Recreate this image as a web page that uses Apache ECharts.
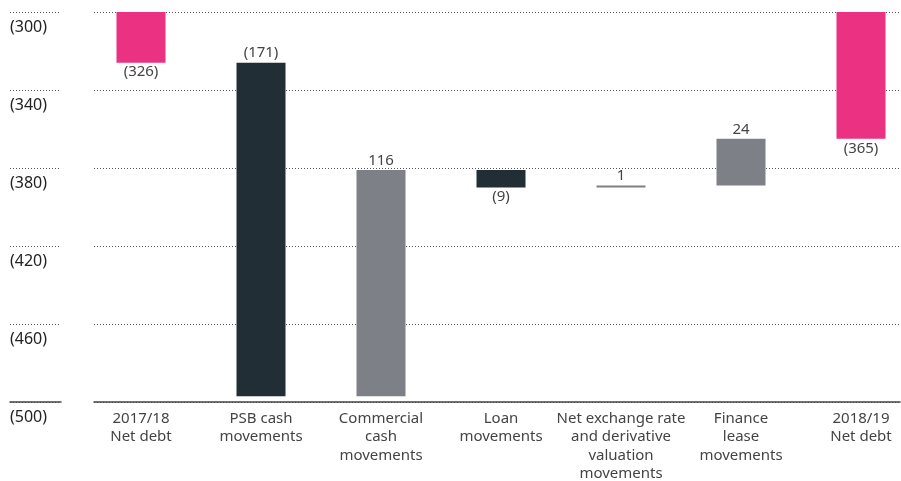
<!DOCTYPE html>
<html><head><meta charset="utf-8">
<script src="https://cdn.jsdelivr.net/npm/echarts@6/dist/echarts.min.js"></script>
<style>html,body{margin:0;padding:0;background:#fff}#c{width:901px;height:481px}</style>
</head><body><div id="c"></div>
<script>
const categories = ['2017/18\nNet debt', 'PSB cash\nmovements', 'Commercial\ncash\nmovements', 'Loan\nmovements', 'Net exchange rate\nand derivative\nvaluation\nmovements', 'Finance\nlease\nmovements', '2018/19\nNet debt'];
const openingDebt = -326;
const movements = [-171, 116, -9, 1, 24];
const closingDebt = -365;
const axisMin = -500, axisMax = -300, axisStep = 40;

// style config (not data)
const labelSide = ['bottom', 'top', 'top', 'bottom', 'top', 'top', 'bottom'];
const PINK = '#EA3182', DARK = '#212E36', GREY = '#7E8088';
const FONT = 'Noto Sans';

// build waterfall from the values
const baseVals = [0], segVals = [openingDebt], shown = [openingDebt], colors = [PINK];
let running = openingDebt;
movements.forEach(m => {
  const start = running, end = running + m;
  const top = Math.max(start, end), bottom = Math.min(start, end);
  baseVals.push(top); segVals.push(bottom - top); shown.push(m);
  colors.push(m < 0 ? DARK : GREY);
  running = end;
});
baseVals.push(0); segVals.push(closingDebt); shown.push(closingDebt); colors.push(PINK);

const fmt = v => v < 0 ? '(' + Math.abs(v) + ')' : String(v);
const dotted = {show: true, lineStyle: {color: '#555', width: 1, type: [1, 2]}};
const yBase = {type: 'value', min: axisMin, max: axisMax, interval: axisStep};
const gridBase = {top: 12, height: 390, containLabel: false, outerBoundsMode: 'none'};

const chart = echarts.init(document.getElementById('c'), null, {renderer: 'canvas'});
chart.setOption({
  animation: false,
  textStyle: {fontFamily: FONT},
  grid: [
    Object.assign({left: 94, right: 1}, gridBase),
    Object.assign({left: 81, width: 840}, gridBase),
    Object.assign({left: 10, width: 51}, gridBase)
  ],
  xAxis: [
    {gridIndex: 0, type: 'value', min: 0, max: 1, axisLine: {show: true, onZero: false, lineStyle: {color: '#444', width: 1.5}}, axisTick: {show: false}, axisLabel: {show: false}, splitLine: {show: false}},
    {gridIndex: 1, type: 'category', data: categories, axisLine: {show: false}, axisTick: {show: false},
      axisLabel: {interval: 0, margin: 7, fontSize: 15, lineHeight: 18.5, color: '#444', fontFamily: FONT}},
    {gridIndex: 2, type: 'value', min: 0, max: 1, axisLine: {show: true, onZero: false, lineStyle: {color: '#444', width: 1.5}}, axisTick: {show: false}, axisLabel: {show: false}, splitLine: {show: false}}
  ],
  yAxis: [
    Object.assign({gridIndex: 0, axisLine: {show: false}, axisTick: {show: false}, axisLabel: {show: false}, splitLine: dotted}, yBase),
    Object.assign({gridIndex: 1, show: false}, yBase),
    Object.assign({gridIndex: 2, axisLine: {show: false}, axisTick: {show: false}, splitLine: dotted,
      axisLabel: {inside: true, margin: 0, align: 'left', verticalAlign: 'top', padding: [7, 0, 0, 0], fontSize: 16, color: '#222', fontFamily: FONT, formatter: fmt}}, yBase)
  ],
  series: [
    {type: 'bar', xAxisIndex: 1, yAxisIndex: 1, stack: 'w', barWidth: 49, silent: true,
      itemStyle: {color: 'rgba(0,0,0,0)'}, data: baseVals},
    {type: 'bar', xAxisIndex: 1, yAxisIndex: 1, stack: 'w', barWidth: 49,
      data: segVals.map((v, i) => ({value: v, itemStyle: {color: colors[i]},
        label: {show: true, position: labelSide[i], distance: 2, fontSize: 15, color: '#444', fontFamily: FONT, formatter: () => fmt(shown[i])}}))}
  ]
});
</script></body></html>
